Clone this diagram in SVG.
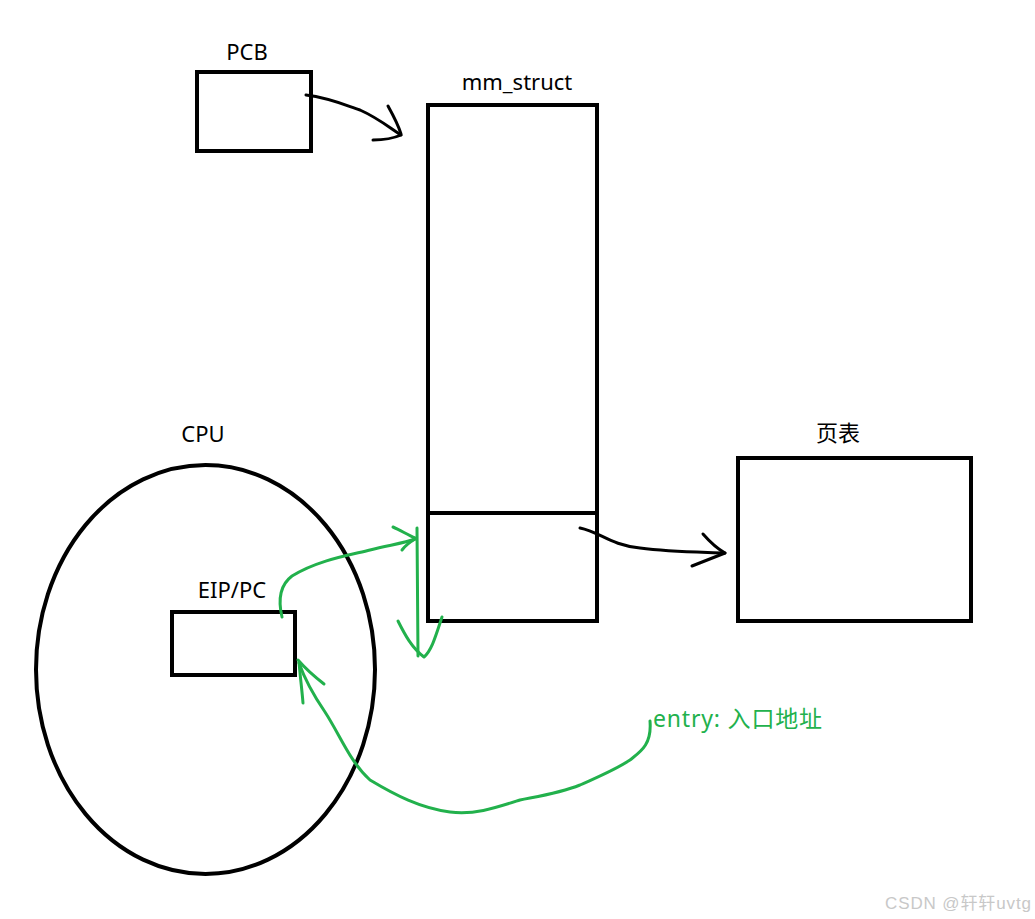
<svg xmlns="http://www.w3.org/2000/svg" width="1035" height="919" viewBox="0 0 1035 919">
<style>
.box{fill:none;stroke:#000;stroke-width:4}
.lbl{font-family:"Noto Sans","Noto Sans CJK SC",sans-serif;font-size:22px;fill:#000}
.blk{fill:none;stroke:#000;stroke-width:3;stroke-linecap:round;stroke-linejoin:round}
.grn{fill:none;stroke:#22b14c;stroke-width:3;stroke-linecap:round;stroke-linejoin:round}
</style>
<rect width="1035" height="919" fill="#fff"/>
<g id="pcb">
<rect class="box" x="197" y="72" width="114" height="79"/>
<text class="lbl" x="247" y="60" text-anchor="middle">PCB</text>
</g>
<g id="mm_struct">
<rect class="box" x="428" y="105" width="169" height="516"/>
<line class="box" x1="428" y1="513" x2="597" y2="513"/>
<text class="lbl" x="517" y="90" text-anchor="middle">mm_struct</text>
</g>
<g id="pagetable">
<rect class="box" x="738" y="458" width="233" height="163"/>
<text class="lbl" x="838" y="441" text-anchor="middle" font-family="Noto Sans CJK SC, sans-serif">页表</text>
</g>
<g id="cpu">
<ellipse class="box" cx="205.5" cy="669.5" rx="169.5" ry="204.5"/>
<text class="lbl" x="203" y="442" text-anchor="middle">CPU</text>
</g>
<g id="eip">
<rect class="box" x="172" y="612" width="123" height="63"/>
<text class="lbl" x="232" y="598" text-anchor="middle">EIP/PC</text>
</g>
<g id="entry">
<text x="653" y="727" font-family="Noto Sans, Noto Sans CJK SC, sans-serif" font-size="23" fill="#22b14c" textLength="169" lengthAdjust="spacing">entry: 入口地址</text>
</g>
<g id="connectors">
<path class="blk" d="M306,95 C330,98 345,105 360,110 C378,118 390,128 401,135"/>
<path class="blk" d="M388,106 C393,115 398,124 401,134 M373,140 C382,140 392,139 401,135"/>
<path class="blk" d="M580,528 C600,532 610,545 640,548 C670,552 700,552 725,553"/>
<path class="blk" d="M703,534 C710,542 716,548 725,553 L692,566"/>
<path class="grn" d="M282,617 C278,600 280,585 292,576 C318,560 350,555 370,550 C390,545 405,543 415,539"/>
<path class="grn" d="M393,527 C400,530 408,535 415,538 M402,550 C405,546 410,542 415,539"/>
<path class="grn" d="M417,528 L418,656"/>
<path class="grn" d="M398,621 C405,635 412,648 424,657 C432,650 436,635 442,617"/>
<path class="grn" d="M650,721 C652,745 640,752 630,760 C615,770 600,776 580,785 C560,793 540,796 520,800 C495,808 475,815 450,812 C420,808 395,795 370,780 C350,762 340,735 325,712 C312,693 305,680 299,663"/>
<path class="grn" d="M298,660 C305,668 315,677 324,684 M299,662 C300,675 302,690 303,703"/>
</g>
<text x="885" y="909" font-family="Liberation Sans, Noto Sans CJK SC, sans-serif" font-size="17" fill="#c8c8c8" textLength="146" lengthAdjust="spacing">CSDN @轩轩uvtg</text>
</svg>
